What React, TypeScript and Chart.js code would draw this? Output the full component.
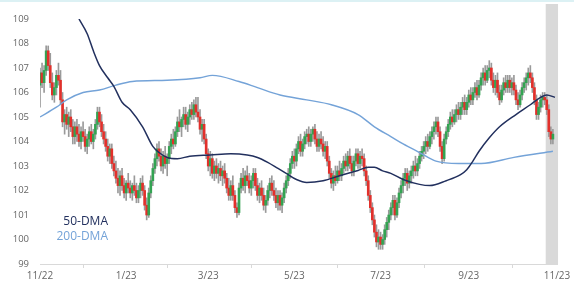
import { useEffect, useRef } from 'react';
import { Chart, registerables } from 'chart.js';

Chart.register(...registerables);

const tickDays = [0, 42, 82, 124, 166, 209, 252];
const tickLabels = ['11/22', '1/23', '3/23', '5/23', '7/23', '9/23', '11/23'];

const opens = [
  106.3,106.8,106.4,106.9,107.7,107.1,106.4,105.9,106.2,106.7,
  106.5,105.7,104.8,105.1,104.7,105.0,104.6,104.2,104.6,104.3,
  104.0,104.4,104.2,103.8,104.1,104.4,104.0,104.3,104.7,105.2,
  104.8,104.4,104.1,103.8,103.4,103.7,103.1,102.8,102.5,102.2,
  102.6,102.2,101.9,102.3,102.1,101.9,102.2,102.0,101.7,102.0,
  102.3,102.0,101.4,101.0,101.9,102.4,102.9,103.3,103.7,103.4,
  103.0,103.4,103.1,103.3,103.8,104.1,103.9,104.4,104.8,104.6,
  104.9,105.1,104.7,105.0,105.3,105.1,105.5,105.2,105.0,104.5,
  104.7,104.1,103.5,103.0,103.3,102.7,103.0,102.7,102.9,102.6,
  102.8,102.5,102.1,101.8,102.2,101.8,101.3,101.1,102.1,102.5,
  102.2,102.6,102.4,102.1,102.4,102.7,102.2,101.8,102.1,101.8,
  101.4,101.6,102.0,102.3,102.0,101.8,101.5,101.8,101.4,101.7,
  102.1,102.4,102.7,103.1,103.4,103.2,103.7,104.0,103.6,103.9,
  104.2,104.3,104.0,104.3,104.5,104.1,103.8,104.1,103.9,103.6,
  103.8,103.2,102.7,102.3,102.6,102.4,102.8,102.6,102.9,103.2,
  103.0,103.4,103.1,102.8,103.2,103.5,103.1,103.4,103.3,102.8,
  102.4,101.8,101.3,100.8,100.3,99.9,100.1,99.8,100.0,100.4,
  100.7,101.0,101.3,101.6,101.0,101.5,101.9,102.2,102.5,102.7,
  102.3,102.6,102.8,103.0,102.8,103.1,103.4,103.6,103.8,104.0,
  103.8,104.2,104.4,104.6,104.8,104.4,103.8,103.3,104.1,104.4,
  104.7,105.0,104.8,105.1,105.3,105.1,105.4,105.6,105.3,105.6,
  105.9,105.7,106.0,106.2,105.9,106.3,106.6,106.8,106.5,106.9,
  107.0,106.5,106.2,106.5,106.0,105.7,106.1,106.4,106.2,106.5,
  106.2,106.4,106.1,105.7,105.5,105.9,106.2,106.4,106.6,106.8,
  106.6,106.2,105.7,105.1,105.4,105.7,105.8,105.7,105.3,104.4,
  104.1,
];

const closes = [
  106.8,106.4,106.9,107.7,107.1,106.4,105.9,106.2,106.7,106.5,
  105.7,104.8,105.1,104.7,105.0,104.6,104.2,104.6,104.3,104.0,
  104.4,104.2,103.8,104.1,104.4,104.0,104.3,104.7,105.2,104.8,
  104.4,104.1,103.8,103.4,103.7,103.1,102.8,102.5,102.2,102.6,
  102.2,101.9,102.3,102.1,101.9,102.2,102.0,101.7,102.0,102.3,
  102.0,101.4,101.0,101.9,102.4,102.9,103.3,103.7,103.4,103.0,
  103.4,103.1,103.3,103.8,104.1,103.9,104.4,104.8,104.6,104.9,
  105.1,104.7,105.0,105.3,105.1,105.5,105.2,105.0,104.5,104.7,
  104.1,103.5,103.0,103.3,102.7,103.0,102.7,102.9,102.6,102.8,
  102.5,102.1,101.8,102.2,101.8,101.3,101.1,102.1,102.5,102.2,
  102.6,102.4,102.1,102.4,102.7,102.2,101.8,102.1,101.8,101.4,
  101.6,102.0,102.3,102.0,101.8,101.5,101.8,101.4,101.7,102.1,
  102.4,102.7,103.1,103.4,103.2,103.7,104.0,103.6,103.9,104.2,
  104.3,104.0,104.3,104.5,104.1,103.8,104.1,103.9,103.6,103.8,
  103.2,102.7,102.3,102.6,102.4,102.8,102.6,102.9,103.2,103.0,
  103.4,103.1,102.8,103.2,103.5,103.1,103.4,103.3,102.8,102.4,
  101.8,101.3,100.8,100.3,99.9,100.1,99.8,100.0,100.4,100.7,
  101.0,101.3,101.6,101.0,101.5,101.9,102.2,102.5,102.7,102.3,
  102.6,102.8,103.0,102.8,103.1,103.4,103.6,103.8,104.0,103.8,
  104.2,104.4,104.6,104.8,104.4,103.8,103.3,104.1,104.4,104.7,
  105.0,104.8,105.1,105.3,105.1,105.4,105.6,105.3,105.6,105.9,
  105.7,106.0,106.2,105.9,106.3,106.6,106.8,106.5,106.9,107.0,
  106.5,106.2,106.5,106.0,105.7,106.1,106.4,106.2,106.5,106.2,
  106.4,106.1,105.7,105.5,105.9,106.2,106.4,106.6,106.8,106.6,
  106.2,105.7,105.1,105.4,105.7,105.8,105.7,105.3,104.4,104.1,
  104.3,
];

const highs = [
  107.0,107.2,107.1,107.9,107.9,107.6,106.8,106.4,106.9,107.2,
  106.9,106.0,105.3,105.4,105.2,105.3,104.9,104.8,104.9,104.7,
  104.6,104.8,104.5,104.3,104.6,104.7,104.5,104.9,105.4,105.4,
  105.1,104.7,104.4,104.1,103.9,103.9,103.4,103.2,102.9,102.8,
  102.9,102.5,102.4,102.7,102.4,102.3,102.6,102.3,102.2,102.5,
  102.6,102.2,101.7,102.1,102.6,103.1,103.5,103.9,104.0,103.7,
  103.6,103.8,103.5,104.0,104.3,104.5,104.6,105.0,105.3,105.0,
  105.4,105.4,105.2,105.5,105.6,105.7,105.8,105.8,105.3,104.9,
  104.9,104.3,103.7,103.6,103.5,103.2,103.3,103.1,103.2,103.0,
  103.1,102.7,102.5,102.4,102.6,102.0,101.5,102.3,102.7,102.9,
  102.8,103.0,102.7,102.6,102.9,102.9,102.5,102.3,102.4,102.1,
  101.8,102.2,102.5,102.6,102.4,102.1,102.0,102.0,101.9,102.3,
  102.6,102.9,103.3,103.6,103.7,103.9,104.2,104.3,104.1,104.4,
  104.5,104.6,104.5,104.6,104.7,104.4,104.3,104.4,104.2,104.0,
  104.0,103.4,102.9,102.8,103.0,103.0,103.2,103.1,103.4,103.5,
  103.6,103.7,103.4,103.4,103.7,103.7,103.6,103.7,103.5,103.0,
  102.6,102.0,101.5,101.0,100.6,100.4,100.3,100.2,100.6,100.9,
  101.2,101.5,101.8,101.8,101.7,102.1,102.4,102.7,102.9,102.9,
  102.8,103.0,103.2,103.4,103.3,103.6,103.8,104.0,104.2,104.3,
  104.4,104.6,104.8,105.0,105.0,104.6,104.0,104.3,104.6,104.9,
  105.2,105.3,105.3,105.5,105.6,105.6,105.8,105.9,105.8,106.1,
  106.2,106.2,106.4,106.5,106.5,106.8,107.0,107.1,107.1,107.3,
  107.2,106.8,106.7,106.8,106.3,106.3,106.6,106.7,106.7,106.7,
  106.6,106.7,106.3,106.0,106.1,106.4,106.6,106.8,107.0,107.1,
  106.8,106.4,105.9,105.6,105.9,106.0,106.0,105.9,105.5,104.6,
  104.5,
];

const lows = [
  105.4,106.2,106.0,106.7,106.9,106.2,105.7,105.6,105.9,106.3,
  105.5,104.6,104.3,104.5,104.2,104.4,103.9,103.9,104.0,103.8,
  103.7,104.0,103.6,103.5,103.8,103.9,103.7,104.1,104.5,104.6,
  104.2,103.9,103.6,103.2,103.1,102.9,102.6,102.3,101.9,101.8,
  102.0,101.7,101.6,101.9,101.7,101.6,101.8,101.5,101.5,101.7,
  101.8,101.2,100.8,100.9,101.7,102.2,102.7,103.0,103.2,102.8,
  102.7,102.9,102.6,103.1,103.5,103.7,103.8,104.2,104.4,104.2,
  104.6,104.5,104.4,104.7,104.9,104.9,105.0,104.8,104.3,104.0,
  103.9,103.3,102.8,102.6,102.5,102.4,102.5,102.3,102.4,102.2,
  102.3,101.9,101.6,101.6,101.6,101.1,100.9,101.0,101.9,102.0,
  101.9,102.2,101.9,101.8,102.1,102.0,101.6,101.5,101.6,101.2,
  101.1,101.4,101.7,101.8,101.6,101.3,101.2,101.2,101.1,101.5,
  101.9,102.2,102.5,102.9,102.9,103.0,103.5,103.4,103.4,103.7,
  103.9,103.8,103.8,104.0,103.9,103.6,103.6,103.7,103.4,103.3,
  103.0,102.5,102.1,102.0,102.2,102.3,102.4,102.4,102.7,102.8,
  102.8,102.9,102.6,102.6,103.0,102.9,102.9,103.0,102.6,102.2,
  101.6,101.1,100.6,100.1,99.7,99.6,99.6,99.6,99.8,100.1,
  100.4,100.8,101.0,100.8,100.9,101.3,101.7,101.9,102.2,102.0,
  102.1,102.3,102.5,102.6,102.6,102.9,103.2,103.3,103.5,103.6,
  103.7,103.9,104.1,104.3,104.2,103.6,103.1,103.2,103.9,104.2,
  104.5,104.6,104.7,104.8,104.9,104.9,105.1,105.1,105.1,105.4,
  105.5,105.5,105.8,105.7,105.8,106.1,106.3,106.3,106.4,106.6,
  106.3,106.0,105.9,105.8,105.5,105.6,105.9,106.0,106.0,106.0,
  105.9,105.9,105.5,105.3,105.4,105.7,106.0,106.1,106.3,106.4,
  106.0,105.5,104.9,104.9,105.2,105.4,105.5,105.1,104.2,103.9,
  103.9,
];

const dma50Days = [19, 23, 26, 29, 33, 36, 40, 44, 50, 55, 58, 62, 67, 73, 83, 93, 101, 106, 111, 116, 120, 125, 130, 138, 146, 155, 160, 163, 167, 171, 177, 185, 190, 198, 205, 208, 211, 214, 219, 224, 232, 239, 244, 247, 251];
const dma50 = [109.0, 108.4, 107.7, 107.1, 106.6, 106.25, 105.6, 105.3, 104.6, 103.8, 103.55, 103.35, 103.3, 103.4, 103.45, 103.5, 103.45, 103.35, 103.15, 102.9, 102.7, 102.45, 102.33, 102.4, 102.6, 102.82, 102.95, 102.95, 102.8, 102.7, 102.45, 102.25, 102.2, 102.4, 102.65, 102.85, 103.2, 103.6, 104.15, 104.6, 105.1, 105.5, 105.8, 105.9, 105.8];

const dma200Days = [0, 8, 13, 21, 29, 37, 45, 62, 78, 84, 97, 106, 117, 130, 142, 155, 163, 171, 177, 185, 193, 204, 215, 231, 250];
const dma200 = [105.0, 105.4, 105.7, 106.0, 106.1, 106.3, 106.45, 106.5, 106.6, 106.7, 106.45, 106.2, 105.9, 105.7, 105.5, 105.1, 104.6, 104.2, 103.9, 103.55, 103.2, 103.1, 103.1, 103.35, 103.6];

const highlightStart = 246.5;
const highlightEnd = 252.5;

const NAVY = '#22305e';
const LIGHT_BLUE = '#74a3d8';
const RED = '#e2302b';
const GREEN = '#33a352';
const WICK = '#9a9a9a';
const TEXT = '#666666';
const FONT = "'Open Sans', 'DejaVu Sans', sans-serif";

export default function App() {
  const ref = useRef<HTMLCanvasElement | null>(null);

  useEffect(() => {
    const canvas = ref.current;
    if (!canvas) return;
    const idx = closes.map((_, i) => i);
    const wickData = idx.map((i) => ({ x: i, y: [lows[i], highs[i]] }));
    const bodyData = idx.map((i) => ({
      x: i,
      y: [Math.min(opens[i], closes[i]), Math.max(opens[i], closes[i])],
    }));
    const bodyColors = idx.map((i) => (closes[i] >= opens[i] ? GREEN : RED));

    const bandPlugin = {
      id: 'band',
      beforeDatasetsDraw(chart: any) {
        const { ctx, chartArea, scales } = chart;
        const x0 = scales.x.getPixelForValue(highlightStart);
        const x1 = scales.x.getPixelForValue(highlightEnd);
        ctx.save();
        ctx.fillStyle = '#d9d9d9';
        ctx.fillRect(x0, 4, x1 - x0, chartArea.bottom - 4);
        ctx.restore();
      },
    };

    const legendPlugin = {
      id: 'legendText',
      afterDraw(chart: any) {
        const { ctx } = chart;
        ctx.save();
        ctx.font = `12px ${FONT}`;
        ctx.textAlign = 'right';
        ctx.textBaseline = 'middle';
        ctx.fillStyle = NAVY;
        ctx.fillText('50-DMA', 108, 222);
        ctx.fillStyle = LIGHT_BLUE;
        ctx.fillText('200-DMA', 108, 237);
        ctx.restore();
      },
    };

    const chart = new Chart(canvas, {
      type: 'bar',
      data: {
        datasets: [
          {
            type: 'line',
            label: '50-DMA',
            data: dma50Days.map((d, i) => ({ x: d, y: dma50[i] })),
            borderColor: NAVY,
            borderWidth: 1.5,
            pointRadius: 0,
            cubicInterpolationMode: 'monotone',
            order: 0,
          } as any,
          {
            type: 'line',
            label: '200-DMA',
            data: dma200Days.map((d, i) => ({ x: d, y: dma200[i] })),
            borderColor: LIGHT_BLUE,
            borderWidth: 1.4,
            pointRadius: 0,
            cubicInterpolationMode: 'monotone',
            order: 0,
          } as any,
          {
            type: 'bar',
            label: 'body',
            data: bodyData as any,
            backgroundColor: bodyColors,
            barThickness: 2,
            grouped: false,
            order: 1,
          } as any,
          {
            type: 'bar',
            label: 'wick',
            data: wickData as any,
            backgroundColor: WICK,
            barThickness: 1,
            grouped: false,
            order: 2,
          } as any,
        ],
      },
      options: {
        animation: false,
        responsive: false,
        devicePixelRatio: 1,
        layout: { padding: { top: 19, right: 17, bottom: 0, left: 0 } },
        plugins: { legend: { display: false }, tooltip: { enabled: false } },
        scales: {
          x: {
            type: 'linear',
            min: 0,
            max: 252,
            offset: false,
            afterBuildTicks: (s: any) => {
              s.ticks = tickDays.map((v) => ({ value: v }));
            },
            afterFit: (s: any) => {
              s.height = 19;
            },
            ticks: {
              autoSkip: false,
              maxRotation: 0,
              padding: 2,
              color: TEXT,
              font: { family: FONT, size: 10 },
              callback: (_v: any, i: number) => tickLabels[i] ?? '',
            },
            grid: { display: true, drawOnChartArea: false, drawTicks: true, tickLength: 4, color: '#d9d9d9' },
            border: { display: true, color: '#d9d9d9' },
          },
          y: {
            type: 'linear',
            min: 99,
            max: 109,
            afterFit: (s: any) => {
              s.width = 40;
            },
            ticks: {
              stepSize: 1,
              padding: 11,
              color: TEXT,
              font: { family: FONT, size: 9.5 },
            },
            grid: { display: false, drawTicks: false },
            border: { display: false },
          },
        },
      } as any,
      plugins: [bandPlugin, legendPlugin],
    });
    return () => chart.destroy();
  }, []);

  return (
    <div style={{ position: 'fixed', left: 0, top: 0, width: 574, height: 283, background: '#ffffff' }}>
      <div style={{ position: 'absolute', left: 0, top: 0, width: 574, height: 2, background: '#dcf1f4' }} />
      <canvas ref={ref} width={574} height={283} style={{ display: 'block', width: 574, height: 283 }} />
    </div>
  );
}
